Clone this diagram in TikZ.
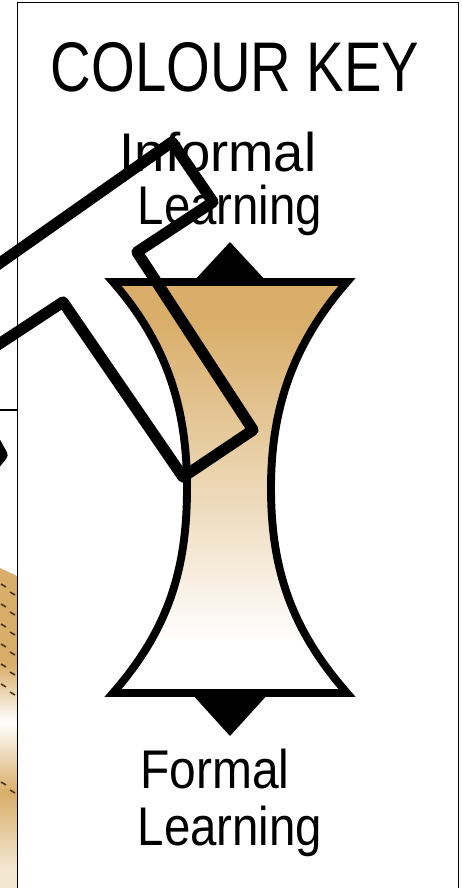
\documentclass[tikz,border=0pt]{standalone}
\usepackage{fontspec}
\setmainfont{Liberation Sans}
\definecolor{keytan}{HTML}{D9AE6A}
\definecolor{keydash}{HTML}{4A3218}
\pgfdeclareverticalshading{keyfade}{100bp}{color(0bp)=(white); color(31bp)=(white); color(51bp)=(keytan!52!white); color(70bp)=(keytan); color(100bp)=(keytan)}
\pgfdeclareverticalshading{keysheen}{100bp}{color(0bp)=(keytan!30!white); color(28bp)=(keytan!30!white); color(40bp)=(keytan); color(51bp)=(white); color(60bp)=(keytan); color(100bp)=(keytan)}
\begin{document}
\begin{tikzpicture}[x=0.02cm, y=-0.02cm,
    keytext/.style={font=\fontsize{31}{31}\selectfont, anchor=base},
    thickline/.style={line width=6.4pt, line join=round}]
    \useasboundingbox (0,0) rectangle (461,888);
    \clip (0,0) rectangle (461,888);
    \fill[white] (0,0) rectangle (461,888);
    \shade[shading=keysheen] (0,568) -- (17,576) -- (17,888) -- (0,888) -- cycle;
    \foreach \y in {584,604,624,644,664,684} \draw[keydash, line width=0.9pt] (1,\y) -- (6,\y+3) (10,\y+8) -- (15,\y+11);
    \draw[keydash, line width=0.9pt] (1,782) -- (6,785) (10,790) -- (15,793);
    \draw[line width=1.1pt] (0,410) -- (17.5,410);
    \draw[line width=1.1pt] (17.5,888) -- (17.5,2.5) -- (458.5,2.5) -- (458.5,888);
    \node[keytext, font=\fontsize{40}{40}\selectfont, xscale=0.8] (title) at (235,92) {COLOUR KEY};
    \node[keytext] (informal) at (218,172) {Informal};
    \node[keytext, xscale=0.87] (learningtop) at (230,225) {Learning};
    \fill (193,282) -- (230,242) -- (267,282) -- cycle;
    \fill (191,693) -- (230,736) -- (269,693) -- cycle;
    \draw[line width=4.5pt, line join=miter, shading=keyfade] (113,282) -- (347,282)
        .. controls (292,345) and (271,410) .. (271,488)
        .. controls (271,570) and (292,630) .. (347,693) -- (113,693)
        .. controls (168,630) and (187,570) .. (187,488)
        .. controls (187,410) and (168,345) .. (113,282) -- cycle;
    \node[keytext, xscale=0.88] (formal) at (215,788) {Formal};
    \node[keytext, xscale=0.87] (learningbottom) at (230,845) {Learning};
    \draw[thickline] (-10,270) -- (172,142) -- (213,202) -- (137,252) -- (253,430) -- (183,477) -- (63,302) -- (-10,350);
    \draw[thickline] (-10,433) -- (2,455) -- (-10,470);
\end{tikzpicture}
\end{document}
